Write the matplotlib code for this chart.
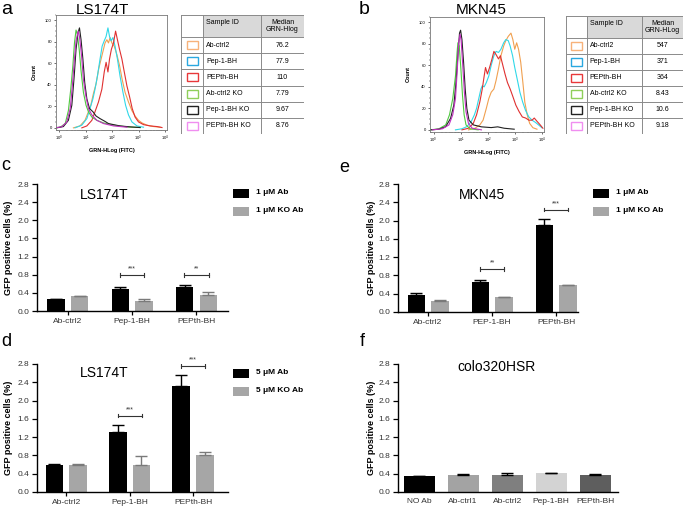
import matplotlib
matplotlib.use("Agg")
import matplotlib.pyplot as plt
from matplotlib.patches import Rectangle
from matplotlib.ticker import LogLocator, MultipleLocator, NullFormatter
import numpy as np

plt.rcParams['font.family'] = ['Liberation Sans', 'DejaVu Sans']

W, H = 685, 507

# ---------------- data ----------------
sample_ids = ["Ab-ctrl2", "Pep-1-BH", "PEPth-BH", "Ab-ctrl2 KO", "Pep-1-BH KO", "PEPth-BH KO"]
median_ls174t = ["76.2", "77.9", "110", "7.79", "9.67", "8.76"]
median_mkn45 = ["547", "371", "364", "8.43", "10.6", "9.18"]
sample_colors = ["#f7b27a", "#2aa8e0", "#e8383a", "#8fcf5a", "#222222", "#f08ef0"]
line_colors = ["#f0a050", "#30d8e8", "#e03030", "#50c840", "#222222", "#c030c0"]

# histogram curves, x = log10(GRN-HLog), y = count
a_x = {
    "Ab-ctrl2": [0.53, 0.78, 0.97, 1.1, 1.19, 1.29, 1.39, 1.49, 1.58, 1.65, 1.73, 1.8, 1.86, 1.92, 1.99, 2.08, 2.18,
                 2.28, 2.38, 2.49, 2.62, 2.75, 2.87, 3.0, 3.13, 3.32, 3.57, 3.82],
    "Pep-1-BH": [0.59, 0.85, 1.04, 1.16, 1.27, 1.35, 1.44, 1.54, 1.62, 1.7, 1.77, 1.84, 1.9, 1.96, 2.03, 2.11, 2.2,
                 2.3, 2.41, 2.51, 2.62, 2.75, 2.94, 3.19],
    "PEPth-BH": [0.85, 1.04, 1.23, 1.35, 1.48, 1.61, 1.7, 1.77, 1.84, 1.9, 1.97, 2.05, 2.13, 2.2, 2.28, 2.37, 2.46,
                 2.56, 2.66, 2.76, 2.87, 3.0, 3.19, 3.44, 3.7, 3.89],
    "Ab-ctrl2 KO": [-0.23, 0.03, 0.22, 0.34, 0.43, 0.51, 0.57, 0.63, 0.68, 0.75, 0.82, 0.91, 1.01, 1.1, 1.23, 1.42,
                    1.67, 2.05, 2.56, 3.06],
    "Pep-1-BH KO": [-0.1, 0.15, 0.34, 0.47, 0.56, 0.63, 0.7, 0.76, 0.82, 0.89, 0.96, 1.04, 1.14, 1.27, 1.39, 1.54,
                    1.73, 1.86, 2.05, 2.3, 2.68, 3.06],
    "PEPth-BH KO": [-0.16, 0.09, 0.28, 0.41, 0.49, 0.57, 0.63, 0.71, 0.76, 0.84, 0.91, 1.0, 1.1, 1.23, 1.42, 1.67,
                    2.05, 2.56],
}
a_y = {
    "Ab-ctrl2": [0, 1.8, 7, 15, 21, 32, 41, 55, 64, 71, 79, 82, 79, 84, 79, 76, 68, 58, 45, 33, 24, 16, 11, 7, 4.6,
                 2.5, 1.2, 0.6],
    "Pep-1-BH": [0, 2.5, 8.6, 18, 27, 36, 48, 64, 76, 81, 85, 93, 85, 81, 84, 76, 64, 48, 33, 21, 12, 5.5, 1.8, 0.6],
    "PEPth-BH": [0, 1.8, 7, 15, 24, 36, 52, 61, 52, 64, 73, 79, 90, 82, 73, 64, 52, 39, 29, 18, 10, 5.5, 3, 1.8, 1.2,
                 0.3],
    "Ab-ctrl2 KO": [0, 0.6, 4, 16, 36, 58, 79, 91, 87, 73, 53, 33, 21, 15, 10, 7, 4.6, 2.5, 0.9, 0.3],
    "Pep-1-BH KO": [0, 1.2, 7, 21, 48, 73, 88, 93, 82, 64, 42, 27, 18, 15, 11, 8.6, 6, 4, 3, 1.8, 0.9, 0.3],
    "PEPth-BH KO": [0, 1, 5.5, 18, 39, 64, 81, 90, 85, 67, 45, 30, 18, 12, 7, 4, 1.8, 0.6],
}
b_x = {
    "Ab-ctrl2": [1.29, 1.53, 1.71, 1.83, 1.95, 2.04, 2.13, 2.23, 2.31, 2.4, 2.49, 2.59, 2.67, 2.76, 2.86, 2.93, 3.0,
                 3.07, 3.14, 3.22, 3.3, 3.37, 3.46, 3.55, 3.67, 3.82],
    "Pep-1-BH": [0.81, 1.05, 1.23, 1.39, 1.51, 1.59, 1.67, 1.75, 1.8, 1.87, 1.95, 2.04, 2.13, 2.23, 2.31, 2.4, 2.49,
                 2.59, 2.67, 2.76, 2.83, 2.92, 3.0, 3.1, 3.19, 3.29, 3.4, 3.52, 3.64, 3.76, 3.88, 4.0],
    "PEPth-BH": [1.05, 1.29, 1.47, 1.59, 1.71, 1.8, 1.87, 1.92, 1.99, 2.07, 2.16, 2.23, 2.31, 2.4, 2.47, 2.55, 2.64,
                 2.73, 2.83, 2.93, 3.04, 3.16, 3.28, 3.4, 3.52, 3.64, 3.72, 3.82, 3.94, 4.04],
    "Ab-ctrl2 KO": [-0.1, 0.2, 0.45, 0.59, 0.71, 0.81, 0.87, 0.9, 0.95, 1.01, 1.07, 1.13, 1.2, 1.35, 1.65],
    "Pep-1-BH KO": [-0.1, 0.2, 0.45, 0.63, 0.75, 0.83, 0.9, 0.96, 1.0, 1.05, 1.11, 1.17, 1.23, 1.31, 1.47, 1.77,
                    2.13, 2.37, 2.61, 2.98],
    "PEPth-BH KO": [-0.04, 0.33, 0.57, 0.71, 0.81, 0.88, 0.93, 0.98, 1.02, 1.08, 1.14, 1.2, 1.29, 1.43, 1.77],
}
b_y = {
    "Ab-ctrl2": [0, 1.5, 4.6, 9, 20, 29, 35, 38, 46, 57, 69, 78, 83, 87, 90, 84, 75, 81, 75, 63, 44, 26, 14, 6, 2,
                 0.6],
    "Pep-1-BH": [0, 1, 3, 7.6, 14, 20, 29, 38, 41, 40, 44, 50, 60, 69, 73, 72, 75, 81, 84, 83, 78, 69, 58, 46, 35, 26,
                 18, 12, 9, 7, 4.6, 2],
    "PEPth-BH": [0, 1.5, 6, 14, 26, 38, 50, 58, 52, 58, 66, 73, 70, 66, 69, 61, 52, 44, 38, 31, 23, 17, 12, 11, 9, 9,
                 11, 8, 4.6, 1.5],
    "Ab-ctrl2 KO": [0, 1, 4.6, 14, 29, 50, 72, 81, 78, 57, 32, 14, 4.6, 1, 0],
    "Pep-1-BH KO": [0, 0.6, 3, 10.7, 23, 44, 69, 90, 92.7, 84, 63, 38, 20, 9, 4.6, 2.8, 2.1, 2.8, 1.5, 0.6],
    "PEPth-BH KO": [0, 1, 4.6, 14, 29, 57, 81, 89, 83, 60, 35, 17, 6, 1.5, 0],
}

cats_ls = ["Ab-ctrl2", "Pep-1-BH", "PEPth-BH"]
cats_mkn = ["Ab-ctrl2", "PEP-1-BH", "PEPth-BH"]

c_ab = [0.26, 0.48, 0.54]
c_ab_err = [0.01, 0.05, 0.04]
c_ko = [0.32, 0.23, 0.35]
c_ko_err = [0.02, 0.04, 0.06]
c_sig = [None, (0.80, "***"), (0.80, "**")]

e_ab = [0.37, 0.65, 1.90]
e_ab_err = [0.04, 0.06, 0.13]
e_ko = [0.25, 0.33, 0.58]
e_ko_err = [0.01, 0.0, 0.01]
e_sig = [None, (0.94, "**"), (2.24, "***")]

d_ab = [0.60, 1.31, 2.32]
d_ab_err = [0.02, 0.16, 0.24]
d_ko = [0.58, 0.60, 0.82]
d_ko_err = [0.04, 0.19, 0.05]
d_sig = [None, (1.67, "***"), (2.76, "***")]

f_cats = ["NO Ab", "Ab-ctrl1", "Ab-ctrl2", "Pep-1-BH", "PEPth-BH"]
f_vals = [0.34, 0.38, 0.37, 0.415, 0.38]
f_err = [0.015, 0.012, 0.05, 0.005, 0.005]
f_colors = ["#000000", "#a3a3a3", "#7f7f7f", "#d3d3d3", "#5e5e5e"]


def px(l, t, r, b):
    return [l / W, 1 - b / H, (r - l) / W, (b - t) / H]


def ftxt(fig, x, y, s, **kw):
    fig.text(x / W, 1 - y / H, s, **kw)


def histo(ax, xs, ys):
    for name, col in zip(sample_ids, line_colors):
        ax.plot(10 ** np.array(xs[name]), ys[name], color=col, lw=0.8)
    ax.set_xscale("log")
    ax.set_xlim(10 ** -0.13, 10 ** 4.08)
    ax.set_ylim(-2, 105)
    ax.xaxis.set_major_locator(LogLocator(base=10, numticks=10))
    ax.xaxis.set_minor_formatter(NullFormatter())
    ax.yaxis.set_major_locator(MultipleLocator(20))
    ax.yaxis.set_minor_locator(MultipleLocator(5))
    ax.tick_params(labelsize=3, length=1.5, width=0.4, pad=1.5)
    ax.tick_params(which="minor", length=0.8, width=0.3)
    for s in ax.spines.values():
        s.set_color("#777777")
        s.set_linewidth(0.6)
    ax.set_ylabel("Count", fontsize=4, fontweight="bold", labelpad=6)
    ax.set_xlabel("GRN-HLog (FITC)", fontsize=4, fontweight="bold", labelpad=3)


def table(ax, medians, header):
    w_total, h_total = 123, 119
    c1, c2 = 22, 80
    head = 22
    rh = (h_total - head) / len(sample_ids)
    ax.set_xlim(0, w_total)
    ax.set_ylim(h_total, 0)
    ax.axis("off")
    ax.add_patch(Rectangle((c1, 0), w_total - c1, head, facecolor="#d9d9d9", edgecolor="none"))
    lc = "#8a8a8a"
    for y in [0, head] + [head + rh * (i + 1) for i in range(len(sample_ids))]:
        ax.plot([0, w_total], [y, y], color=lc, lw=0.7)
    for x in [0, c1, c2, w_total]:
        ax.plot([x, x], [0, h_total], color=lc, lw=0.7)
    ax.text(c1 + 3, head / 2 - 3, "Sample ID", fontsize=5, va="center", ha="left")
    ax.text((c2 + w_total) / 2, head / 2, header, fontsize=5, va="center", ha="center", linespacing=1.1)
    for i, (sid, med, col) in enumerate(zip(sample_ids, medians, sample_colors)):
        yc = head + rh * (i + 0.5)
        ax.add_patch(Rectangle((c1 / 2 - 5.5, yc - 4), 11, 8, facecolor="none", edgecolor=col, lw=1))
        ax.text(c1 + 3, yc, sid, fontsize=5, va="center", ha="left")
        ax.text((c2 + w_total) / 2, yc, med, fontsize=5, va="center", ha="center")


def style_bar_axes(ax, xlim):
    ax.set_xlim(*xlim)
    ax.set_ylim(0, 2.8)
    ax.set_yticks(np.arange(0, 2.81, 0.4))
    ax.set_yticklabels([f"{v:.1f}" for v in np.arange(0, 2.81, 0.4)])
    for s in ["top", "right"]:
        ax.spines[s].set_visible(False)
    for s in ["left", "bottom"]:
        ax.spines[s].set_linewidth(1.0)
    ax.tick_params(axis="y", labelsize=6, length=3.5, width=0.9, pad=2, labelcolor="#333333")
    ax.tick_params(axis="x", labelsize=6, length=3, width=0.9, pad=2, labelcolor="#333333")


def sig_bracket(ax, xc, y, stars, half=0.19):
    ax.plot([xc - half, xc + half], [y, y], color="#333333", lw=0.8)
    for xe in (xc - half, xc + half):
        ax.plot([xe, xe], [y - 0.04, y + 0.04], color="#333333", lw=0.8)
    ax.text(xc, y + 0.05, stars, fontsize=5, ha="center", va="bottom", color="#333333")


def grouped(ax, cats, ab, ab_err, ko, ko_err, sig, xlim, off=0.185, width=0.27):
    x = np.arange(len(cats))
    ax.bar(x - off, ab, width, color="black",
           yerr=[np.zeros(len(ab)), ab_err], error_kw=dict(ecolor="black", elinewidth=1, capsize=4, capthick=1))
    ax.bar(x + off, ko, width, color="#a6a6a6",
           yerr=[np.zeros(len(ko)), ko_err], error_kw=dict(ecolor="#7a7a7a", elinewidth=1, capsize=4, capthick=1))
    for xc, s in zip(x, sig):
        if s is not None:
            sig_bracket(ax, xc, s[0], s[1])
    ax.set_xticks(x)
    ax.set_xticklabels(cats)
    style_bar_axes(ax, xlim)


def legend_box(fig, x, y, labels):
    for i, (lab, col) in enumerate(zip(labels, ["black", "#a6a6a6"])):
        yy = y + 18 * i
        fig.patches.append(Rectangle((x / W, 1 - (yy + 4.5) / H), 16 / W, 9 / H, facecolor=col,
                                     edgecolor="none", transform=fig.transFigure))
        ftxt(fig, x + 23, yy, lab, fontsize=6, fontweight="bold", va="center", ha="left")


def main():
    fig = plt.figure(figsize=(W / 100, H / 100), dpi=100)

    # a
    ftxt(fig, 7, 10, "a", fontsize=14, ha="center", va="center")
    ftxt(fig, 102, 10, "LS174T", fontsize=11, ha="center", va="center")
    axa = fig.add_axes(px(56, 15, 167, 130))
    histo(axa, a_x, a_y)
    tab_a = fig.add_axes(px(181, 15, 304, 134))
    table(tab_a, median_ls174t, "Median\nGRN-Hlog")

    # b
    ftxt(fig, 364, 9, "b", fontsize=14, ha="center", va="center")
    ftxt(fig, 481, 10, "MKN45", fontsize=11, ha="center", va="center")
    axb = fig.add_axes(px(430, 17, 544, 132))
    histo(axb, b_x, b_y)
    tab_b = fig.add_axes(px(566, 16, 683, 134))
    table(tab_b, median_mkn45, "Median\nGRN-HLog")

    # c
    ftxt(fig, 6, 165, "c", fontsize=13, ha="center", va="center")
    axc = fig.add_axes(px(37, 184, 228, 311))
    grouped(axc, cats_ls, c_ab, c_ab_err, c_ko, c_ko_err, c_sig, (-0.48, 2.49))
    ftxt(fig, 104, 195, "LS174T", fontsize=10, ha="center", va="center")
    ftxt(fig, 9, 248, "GFP positive cells (%)", fontsize=6.5, fontweight="bold", rotation=90,
         ha="center", va="center")
    legend_box(fig, 233, 193, ["1 μM Ab", "1 μM KO Ab"])

    # e
    ftxt(fig, 344, 167, "e", fontsize=13, ha="center", va="center")
    axe = fig.add_axes(px(398, 184, 578, 312))
    grouped(axe, cats_mkn, e_ab, e_ab_err, e_ko, e_ko_err, e_sig, (-0.47, 2.34))
    ftxt(fig, 482, 195, "MKN45", fontsize=10, ha="center", va="center")
    ftxt(fig, 372, 248, "GFP positive cells (%)", fontsize=6.5, fontweight="bold", rotation=90,
         ha="center", va="center")
    legend_box(fig, 593, 193, ["1 μM Ab", "1 μM KO Ab"])

    # d
    ftxt(fig, 6, 341, "d", fontsize=13, ha="center", va="center")
    axd = fig.add_axes(px(37, 364, 228, 492))
    grouped(axd, cats_ls, d_ab, d_ab_err, d_ko, d_ko_err, d_sig, (-0.46, 2.55), width=0.28)
    ftxt(fig, 104, 373, "LS174T", fontsize=10, ha="center", va="center")
    ftxt(fig, 9, 428, "GFP positive cells (%)", fontsize=6.5, fontweight="bold", rotation=90,
         ha="center", va="center")
    legend_box(fig, 233, 373, ["5 μM Ab", "5 μM KO Ab"])

    # f
    ftxt(fig, 362, 341, "f", fontsize=13, ha="center", va="center")
    axf = fig.add_axes(px(398, 364, 618, 492))
    xf = np.arange(len(f_cats))
    axf.bar(xf, f_vals, 0.7, color=f_colors,
            yerr=[np.zeros(len(f_vals)), f_err], error_kw=dict(ecolor="black", elinewidth=1, capsize=4, capthick=1))
    axf.set_xticks(xf)
    axf.set_xticklabels(f_cats)
    style_bar_axes(axf, (-0.48, 4.52))
    axf.tick_params(axis="x", length=0, pad=4)
    ftxt(fig, 497, 367, "colo320HSR", fontsize=10, ha="center", va="center")
    ftxt(fig, 372, 428, "GFP positive cells (%)", fontsize=6.5, fontweight="bold", rotation=90,
         ha="center", va="center")

    fig.savefig("out.png", dpi=100)


if "__main__" == __name__:
    main()
